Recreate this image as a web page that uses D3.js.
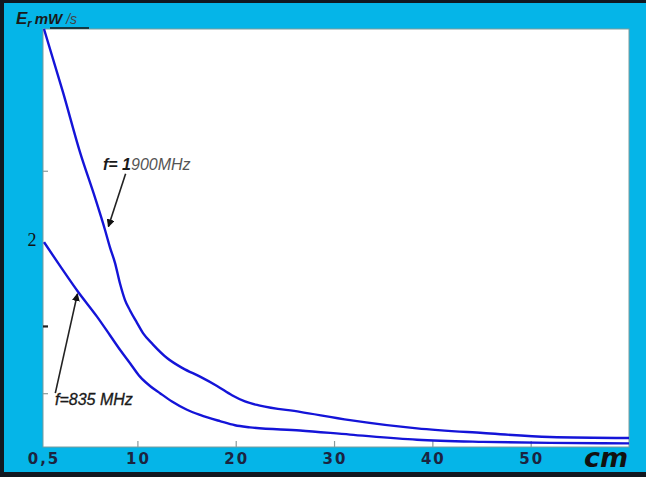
<!DOCTYPE html>
<html><head><meta charset="utf-8">
<script src="https://cdn.jsdelivr.net/npm/d3@7/dist/d3.min.js"></script>
<style>html,body{margin:0;padding:0;background:#fff;}svg{display:block;}</style>
</head><body>
<script>
// ---- data ----
const xTickValues = [0.5, 10, 20, 30, 40, 50];
const xTickLabels = ["0,5", "10", "20", "30", "40", "50"];
const yTickValues = [2.67, 1.17, 0.52];
const yLabelValues = [2];
const yLabelTexts = ["2"];
const dist1900 = [0.5, 2.43, 4.16, 5.69, 6.70, 7.21, 7.72, 8.23, 8.74, 9.25, 9.96, 10.57, 11.59, 13.01, 14.64, 16.37, 18.10, 19.62, 20.94, 22.47, 26.54, 31.62, 38.44, 45.15, 51.96, 60];
const e1900    = [4.04, 3.43, 2.85, 2.41, 2.10, 1.93, 1.78, 1.58, 1.42, 1.32, 1.20, 1.10, 0.99, 0.86, 0.76, 0.68, 0.59, 0.50, 0.44, 0.40, 0.34, 0.26, 0.18, 0.135, 0.097, 0.087];
const dist835  = [0.5, 2.13, 3.96, 5.89, 7.21, 8.23, 9.25, 10.26, 11.28, 12.30, 13.52, 15.04, 16.37, 18.40, 19.93, 21.45, 26.54, 31.62, 38.44, 45.15, 51.96, 60];
const e835     = [1.98, 1.75, 1.50, 1.26, 1.08, 0.94, 0.81, 0.68, 0.59, 0.52, 0.44, 0.36, 0.31, 0.25, 0.21, 0.19, 0.16, 0.12, 0.07, 0.05, 0.04, 0.035];

// ---- layout ----
const W = 646, H = 477;
const plot = {left: 44, right: 629, top: 29, bottom: 447};
const svg = d3.select("body").append("svg").attr("width", W).attr("height", H);

const x = d3.scaleLinear().domain([0.5, 60]).range([plot.left, plot.right]);
const y = d3.scaleLinear().domain([0, 4.04]).range([plot.bottom, plot.top]);

// frame
svg.append("rect").attr("x", 0).attr("y", 0).attr("width", W).attr("height", H).attr("fill", "#05b5e8");
svg.append("rect").attr("x", 0).attr("y", 0).attr("width", W).attr("height", 3).attr("fill", "#111820");
svg.append("rect").attr("x", 0).attr("y", 0).attr("width", 4).attr("height", H).attr("fill", "#111820");
svg.append("rect").attr("x", 0).attr("y", 472).attr("width", W).attr("height", 5).attr("fill", "#111820");

svg.append("rect").attr("x", plot.left - 1).attr("y", plot.top)
  .attr("width", plot.right - plot.left + 1).attr("height", plot.bottom - plot.top)
  .attr("fill", "#ffffff").attr("stroke", "#7d9c9c").attr("stroke-width", 1);

// x axis ticks
const xAxis = d3.axisBottom(x).tickValues(xTickValues.slice(1)).tickSize(-6).tickFormat("");
const gx = svg.append("g").attr("transform", `translate(0,${plot.bottom})`).call(xAxis);
gx.select(".domain").remove();
gx.selectAll(".tick line").attr("stroke", "#8a9a9a").attr("stroke-width", 1.2);

svg.append("g").selectAll("text").data(xTickValues).join("text")
  .attr("x", (d, i) => i === 0 ? x(d) : x(d) + 1)
  .attr("y", 464)
  .attr("text-anchor", "middle")
  .attr("font-family", "DejaVu Sans")
  .attr("font-weight", "bold")
  .attr("font-size", 15)
  .attr("letter-spacing", 2)
  .attr("fill", "#1b2440")
  .text((d, i) => xTickLabels[i]);

svg.append("text").attr("x", 584).attr("y", 467)
  .attr("font-family", "DejaVu Sans").attr("font-style", "italic").attr("font-weight", "bold")
  .attr("font-size", 27).attr("fill", "#111").text("cm");

// y axis ticks
const yAxis = d3.axisLeft(y).tickValues(yTickValues).tickSize(-5).tickFormat("");
const gy = svg.append("g").attr("transform", `translate(${plot.left - 1},0)`).call(yAxis);
gy.select(".domain").remove();
gy.selectAll(".tick line")
  .attr("stroke", (d, i) => i === 1 ? "#222" : "#8a9a9a")
  .attr("stroke-width", (d, i) => i === 1 ? 2.2 : 1.2);

svg.append("g").selectAll("text").data(yLabelValues).join("text")
  .attr("x", 32).attr("y", d => y(d) + 6)
  .attr("text-anchor", "middle")
  .attr("font-family", "Liberation Serif").attr("font-size", 18).attr("fill", "#111")
  .text((d, i) => yLabelTexts[i]);

// y title
const yt = svg.append("text").attr("x", 16).attr("y", 24)
  .attr("font-family", "Liberation Sans").attr("font-weight", "bold").attr("font-style", "italic").attr("fill", "#1a1a1a");
yt.append("tspan").attr("font-size", 17).text("E");
yt.append("tspan").attr("font-size", 11).attr("dy", 3).text("r");
yt.append("tspan").attr("font-size", 15).attr("dy", -3).attr("dx", 3).text("mW");
yt.append("tspan").attr("font-size", 14).attr("dx", 4).attr("fill", "#444").attr("font-weight", "normal").text("/s");
svg.append("line").attr("x1", 50).attr("x2", 89).attr("y1", 28).attr("y2", 28)
  .attr("stroke", "#111").attr("stroke-width", 1.5);

// curves
const line = d3.line().x(d => x(d[0])).y(d => y(d[1])).curve(d3.curveMonotoneX);
const s1900 = dist1900.map((d, i) => [d, e1900[i]]);
const s835 = dist835.map((d, i) => [d, e835[i]]);
svg.append("path").datum(s1900).attr("d", line).attr("fill", "none")
  .attr("stroke", "#1414d8").attr("stroke-width", 2.4).attr("stroke-linejoin", "round");
svg.append("path").datum(s835).attr("d", line).attr("fill", "none")
  .attr("stroke", "#1414d8").attr("stroke-width", 2.4).attr("stroke-linejoin", "round");

// annotations
const defs = svg.append("defs");
defs.append("marker").attr("id", "ah").attr("viewBox", "0 0 10 10").attr("refX", 9).attr("refY", 5)
  .attr("markerWidth", 5).attr("markerHeight", 5).attr("orient", "auto")
  .append("path").attr("d", "M0,0 L10,5 L0,10 Z").attr("fill", "#111");

function arrow(fromData, toData) {
  svg.append("line")
    .attr("x1", x(fromData[0])).attr("y1", y(fromData[1]))
    .attr("x2", x(toData[0])).attr("y2", y(toData[1]))
    .attr("stroke", "#222").attr("stroke-width", 1.6).attr("marker-end", "url(#ah)");
}
arrow([8.80, 2.64], [7.05, 2.13]);
arrow([1.65, 0.52], [3.90, 1.48]);

const t1 = svg.append("text").attr("x", 103).attr("y", 170)
  .attr("font-family", "Liberation Sans").attr("font-style", "italic").attr("font-size", 16);
t1.append("tspan").attr("fill", "#1a1a1a").attr("font-weight", "bold").text("f= 1");
t1.append("tspan").attr("fill", "#555").text("900MHz");

svg.append("text").attr("x", 55).attr("y", 405)
  .attr("font-family", "Liberation Sans").attr("font-style", "italic").attr("font-size", 16)
  .attr("fill", "#1a1a1a").attr("stroke", "#1a1a1a").attr("stroke-width", 0.3).text("f=835 MHz");
</script>
</body></html>
